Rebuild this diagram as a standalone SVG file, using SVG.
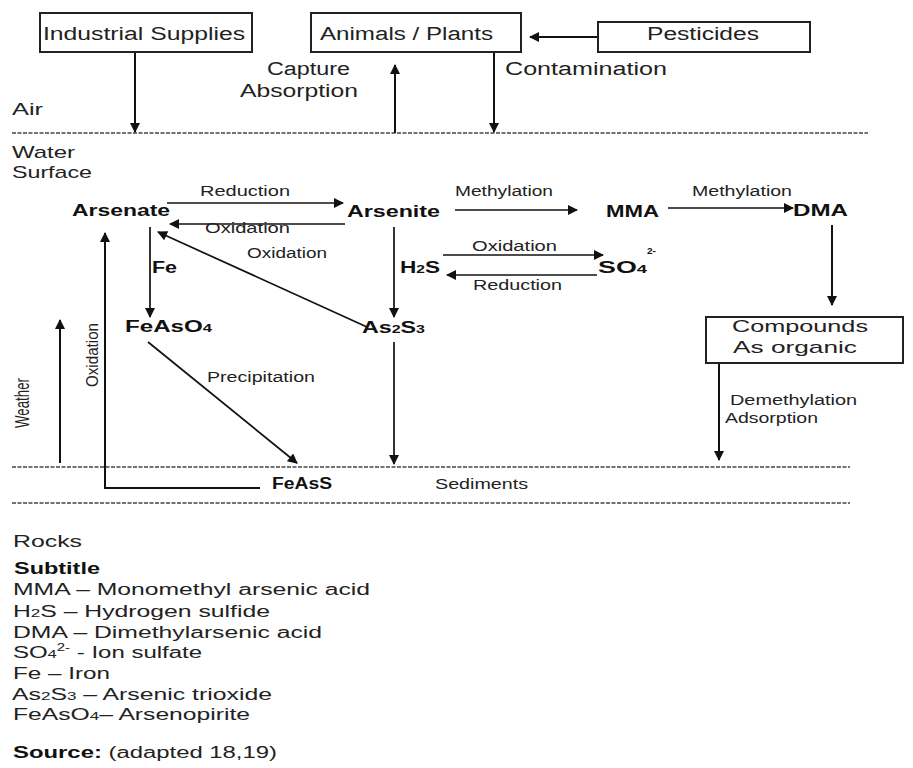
<svg xmlns="http://www.w3.org/2000/svg" width="913" height="768" viewBox="0 0 913 768">
<style>
.t{font-family:"Liberation Sans",Arial,sans-serif;fill:#222}
.b{font-weight:bold;fill:#111}
.s18{font-size:18px}
.s16{font-size:16px}
.s14{font-size:14px}
.ln{stroke:#111;stroke-width:2;fill:none}
.th{stroke:#111;stroke-width:1.7;fill:none}
.dash{stroke:#444;stroke-width:1.5;stroke-dasharray:4 1.5;fill:none}
.box{fill:#fff;stroke:#222;stroke-width:2}
</style>
<defs>
<marker id="ah" viewBox="0 0 10 10" refX="9" refY="5" markerWidth="12" markerHeight="10" markerUnits="userSpaceOnUse" orient="auto">
<path d="M0,0 L10,5 L0,10 z" fill="#111"/>
</marker>
</defs>
<rect width="913" height="768" fill="#fff"/>

<g id="layers">
<line class="dash" x1="12" y1="133" x2="868" y2="133"/>
<line class="dash" x1="12" y1="467" x2="850" y2="467"/>
<line class="dash" x1="12" y1="503" x2="850" y2="503"/>
<text class="t" style="font-size:17px" x="12" y="115" textLength="31" lengthAdjust="spacingAndGlyphs">Air</text>
<text class="t" style="font-size:17px" x="12" y="158" textLength="63" lengthAdjust="spacingAndGlyphs">Water</text>
<text class="t" style="font-size:17px" x="12" y="178" textLength="80" lengthAdjust="spacingAndGlyphs">Surface</text>
<text class="t s14" x="435" y="489" textLength="93" lengthAdjust="spacingAndGlyphs">Sediments</text>
<text class="t" style="font-size:16px" x="13" y="547" textLength="69" lengthAdjust="spacingAndGlyphs">Rocks</text>
</g>

<g id="connectors">
<line class="ln" x1="135" y1="52" x2="135" y2="132" marker-end="url(#ah)"/>
<line class="ln" x1="395" y1="133" x2="395" y2="65" marker-end="url(#ah)"/>
<line class="ln" x1="494" y1="52" x2="494" y2="132" marker-end="url(#ah)"/>
<line class="ln" x1="598" y1="37" x2="530" y2="37" marker-end="url(#ah)"/>
<line class="th" x1="167" y1="203" x2="343" y2="203" marker-end="url(#ah)"/>
<line class="th" x1="345" y1="224" x2="170" y2="224" marker-end="url(#ah)"/>
<line class="th" x1="455" y1="210" x2="577" y2="210" marker-end="url(#ah)"/>
<line class="th" x1="668" y1="208" x2="793" y2="208" marker-end="url(#ah)"/>
<line class="ln" x1="832" y1="225" x2="832" y2="305" marker-end="url(#ah)"/>
<line class="th" x1="150" y1="227" x2="150" y2="317" marker-end="url(#ah)"/>
<line class="th" x1="394" y1="227" x2="394" y2="317" marker-end="url(#ah)"/>
<line class="th" x1="367" y1="327" x2="158" y2="232" marker-end="url(#ah)"/>
<line class="th" x1="443" y1="255" x2="603" y2="255" marker-end="url(#ah)"/>
<line class="th" x1="597" y1="275" x2="447" y2="275" marker-end="url(#ah)"/>
<line class="th" x1="148" y1="342" x2="297" y2="463" marker-end="url(#ah)"/>
<line class="th" x1="394" y1="342" x2="394" y2="464" marker-end="url(#ah)"/>
<line class="ln" x1="719" y1="363" x2="719" y2="460" marker-end="url(#ah)"/>
<line class="ln" x1="60" y1="463" x2="60" y2="320" marker-end="url(#ah)"/>
<polyline class="ln" points="260,488 105,488 105,233" marker-end="url(#ah)"/>
<text class="t s14" x="200" y="196" textLength="90" lengthAdjust="spacingAndGlyphs">Reduction</text>
<text class="t s14" x="205" y="233" textLength="85" lengthAdjust="spacingAndGlyphs">Oxidation</text>
<text class="t s14" x="247" y="258" textLength="80" lengthAdjust="spacingAndGlyphs">Oxidation</text>
<text class="t s14" x="455" y="196" textLength="98" lengthAdjust="spacingAndGlyphs">Methylation</text>
<text class="t s14" x="692" y="196" textLength="100" lengthAdjust="spacingAndGlyphs">Methylation</text>
<text class="t s14" x="472" y="251" textLength="85" lengthAdjust="spacingAndGlyphs">Oxidation</text>
<text class="t s14" x="473" y="290" textLength="89" lengthAdjust="spacingAndGlyphs">Reduction</text>
<text class="t s14" x="207" y="382" textLength="108" lengthAdjust="spacingAndGlyphs">Precipitation</text>
<text class="t s14" x="730" y="405" textLength="127" lengthAdjust="spacingAndGlyphs">Demethylation</text>
<text class="t s14" x="725" y="423" textLength="93" lengthAdjust="spacingAndGlyphs">Adsorption</text>
<text class="t s18" x="267" y="75" textLength="83" lengthAdjust="spacingAndGlyphs">Capture</text>
<text class="t s18" x="240" y="97" textLength="118" lengthAdjust="spacingAndGlyphs">Absorption</text>
<text class="t s18" x="505" y="75" textLength="162" lengthAdjust="spacingAndGlyphs">Contamination</text>
<text class="t" style="font-size:13px" transform="translate(98,387) rotate(-90) scale(1,1.3)" x="0" y="0" textLength="64" lengthAdjust="spacingAndGlyphs">Oxidation</text>
<text class="t" style="font-size:14px" transform="translate(29,428) rotate(-90) scale(1,1.4)" x="0" y="0" textLength="50" lengthAdjust="spacingAndGlyphs">Weather</text>
</g>

<g id="industrial">
<rect class="box" x="40" y="13" width="212" height="39"/>
<text class="t s18" x="43" y="40" textLength="202" lengthAdjust="spacingAndGlyphs">Industrial Supplies</text>
</g>
<g id="animals">
<rect class="box" x="311" y="13" width="210" height="39"/>
<text class="t s18" x="320" y="40" textLength="173" lengthAdjust="spacingAndGlyphs">Animals / Plants</text>
</g>
<g id="pesticides">
<rect class="box" x="598" y="22" width="212" height="30"/>
<text class="t s18" x="647" y="40" textLength="112" lengthAdjust="spacingAndGlyphs">Pesticides</text>
</g>
<g id="arsenate"><text class="t b s16" x="72" y="216" textLength="98" lengthAdjust="spacingAndGlyphs">Arsenate</text></g>
<g id="arsenite"><text class="t b s16" x="347" y="217" textLength="93" lengthAdjust="spacingAndGlyphs">Arsenite</text></g>
<g id="mma"><text class="t b s16" x="606" y="217" textLength="53" lengthAdjust="spacingAndGlyphs">MMA</text></g>
<g id="dma"><text class="t b s16" x="793" y="216" textLength="55" lengthAdjust="spacingAndGlyphs">DMA</text></g>
<g id="fe"><text class="t b s16" x="152" y="273" textLength="25" lengthAdjust="spacingAndGlyphs">Fe</text></g>
<g id="h2s"><text class="t b s16" x="400" y="273" textLength="40" lengthAdjust="spacingAndGlyphs">H<tspan style="font-size:11px">2</tspan>S</text></g>
<g id="so4">
<text class="t b s16" x="598" y="273" textLength="49" lengthAdjust="spacingAndGlyphs">SO<tspan style="font-size:11px">4</tspan></text>
<text class="t b" style="font-size:9px" x="647" y="254" textLength="9" lengthAdjust="spacingAndGlyphs">2-</text>
</g>
<g id="feaso4"><text class="t b s16" x="125" y="332" textLength="87" lengthAdjust="spacingAndGlyphs">FeAsO<tspan style="font-size:11px">4</tspan></text></g>
<g id="as2s3"><text class="t b s16" x="362" y="333" textLength="63" lengthAdjust="spacingAndGlyphs">As<tspan style="font-size:11px">2</tspan>S<tspan style="font-size:11px">3</tspan></text></g>
<g id="compounds">
<rect class="box" x="706" y="317" width="197" height="46"/>
<text class="t" style="font-size:17px" x="732" y="332" textLength="136" lengthAdjust="spacingAndGlyphs">Compounds</text>
<text class="t" style="font-size:17px" x="733" y="353" textLength="124" lengthAdjust="spacingAndGlyphs">As organic</text>
</g>
<g id="feass"><text class="t b s16" x="272" y="489" textLength="60" lengthAdjust="spacingAndGlyphs">FeAsS</text></g>

<g id="legend">
<text class="t b" style="font-size:16px" x="14" y="574" textLength="86" lengthAdjust="spacingAndGlyphs">Subtitle</text>
<text class="t" style="font-size:16px" x="13" y="595" textLength="357" lengthAdjust="spacingAndGlyphs">MMA – Monomethyl arsenic acid</text>
<text class="t" style="font-size:16px" x="13" y="617" textLength="257" lengthAdjust="spacingAndGlyphs">H<tspan style="font-size:11px">2</tspan>S – Hydrogen sulfide</text>
<text class="t" style="font-size:16px" x="13" y="638" textLength="309" lengthAdjust="spacingAndGlyphs">DMA – Dimethylarsenic acid</text>
<text class="t" style="font-size:16px" x="13" y="658" textLength="189" lengthAdjust="spacingAndGlyphs">SO<tspan style="font-size:11px">4</tspan><tspan style="font-size:10px" dy="-7">2-</tspan><tspan dy="7"> - Ion sulfate</tspan></text>
<text class="t" style="font-size:16px" x="13" y="679" textLength="97" lengthAdjust="spacingAndGlyphs">Fe – Iron</text>
<text class="t" style="font-size:16px" x="12" y="700" textLength="260" lengthAdjust="spacingAndGlyphs">As<tspan style="font-size:11px">2</tspan>S<tspan style="font-size:11px">3</tspan> – Arsenic trioxide</text>
<text class="t" style="font-size:16px" x="13" y="720" textLength="237" lengthAdjust="spacingAndGlyphs">FeAsO<tspan style="font-size:11px">4</tspan>– Arsenopirite</text>
<text class="t" style="font-size:16px" x="13" y="758" textLength="264" lengthAdjust="spacingAndGlyphs"><tspan class="b">Source:</tspan> (adapted 18,19)</text>
</g>
</svg>
